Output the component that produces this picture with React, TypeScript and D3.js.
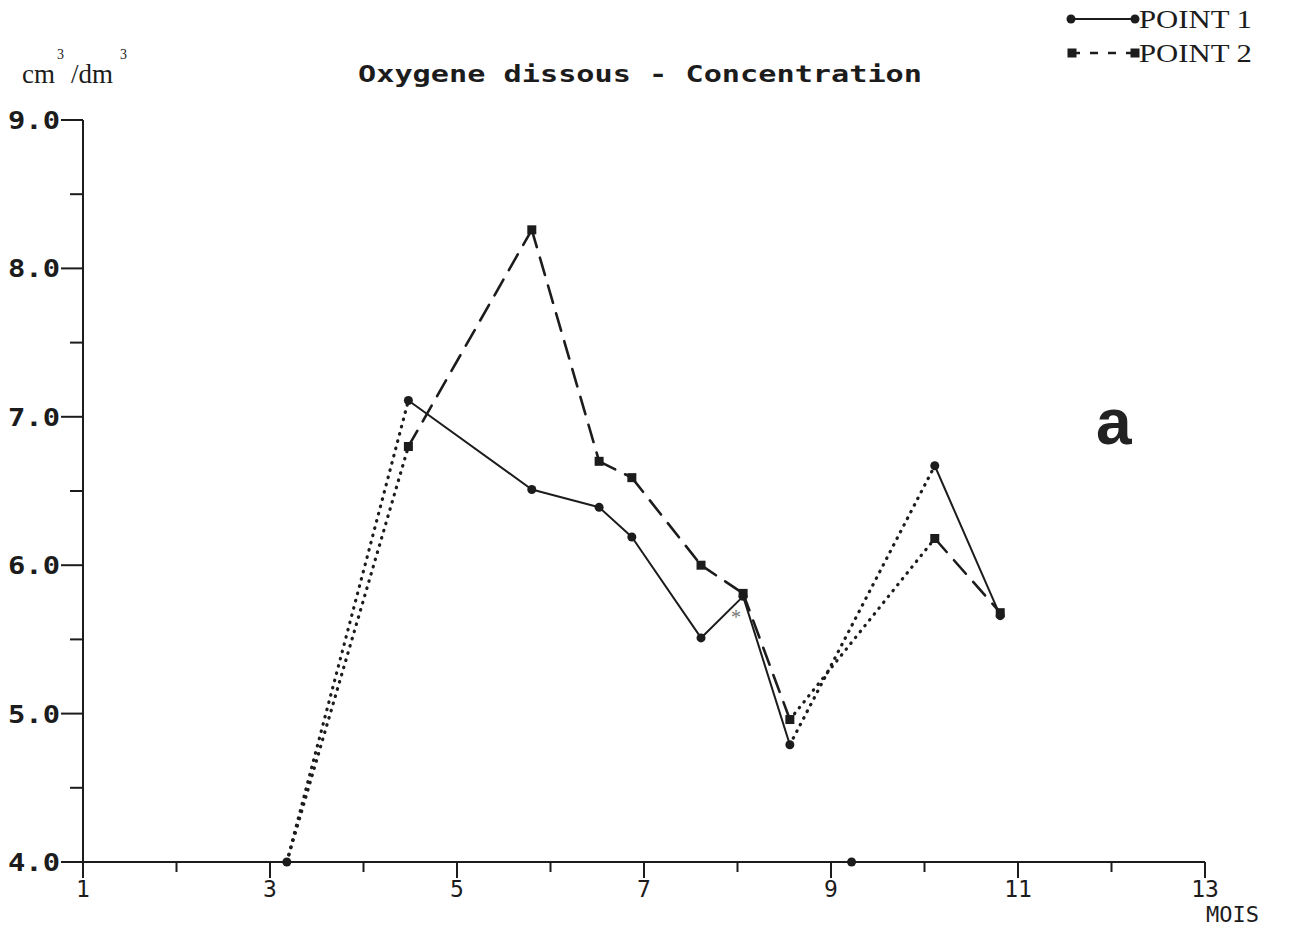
import * as d3 from "d3";

// months where samples were taken (sentinel 4.0 = no value / off scale)
const months = [3.18, 4.48, 5.8, 6.52, 6.87, 7.61, 8.06, 8.56, 10.11, 10.81];
const point1 = [4.0, 7.11, 6.51, 6.39, 6.19, 5.51, 5.79, 4.79, 6.67, 5.66];
const point2 = [4.0, 6.8, 8.26, 6.7, 6.59, 6.0, 5.81, 4.96, 6.18, 5.68];
// style of each segment between consecutive samples
const segStyle = ["dot", "main", "main", "main", "main", "main", "main", "dot", "main"];
// isolated marker on the axis (point 1 only)
const isolatedMonth = [9.22];
const isolatedValue = [4.0];

const xTicks = [1, 2, 3, 4, 5, 6, 7, 8, 9, 10, 11, 12, 13];
const yTicks = [4, 4.5, 5, 5.5, 6, 6.5, 7, 7.5, 8, 8.5, 9];

const ink = "#1c1c1c";
const plotFont = "'DejaVu Sans Mono', monospace";
const serif = "'Liberation Serif', 'DejaVu Serif', serif";

export default function App() {
  const width = 1292;
  const height = 926;
  const x = d3.scaleLinear().domain([1, 13]).range([83, 1205]);
  const y = d3.scaleLinear().domain([4, 9]).range([862, 120]);

  const seg = (vals: number[], i: number) =>
    d3.line<number>().x((d) => x(months[d])).y((d) => y(vals[d]))([i, i + 1]) || "";

  const square = (cx: number, cy: number, key: string) => (
    <rect key={key} x={cx - 4.5} y={cy - 4.5} width={9} height={9} fill={ink} />
  );

  return (
    <svg
      width={width}
      height={height}
      style={{ position: "absolute", left: 0, top: 0, background: "#fff" }}
    >
      {/* title */}
      <text x={358} y={82} fontFamily={plotFont} fontWeight="bold" fontSize={23} fill={ink} textLength={564} lengthAdjust="spacingAndGlyphs">
        Oxygene dissous - Concentration
      </text>

      {/* unit */}
      <text x={22} y={83} fontFamily={serif} fontSize={27} fill={ink}>cm</text>
      <text x={57} y={59} fontFamily={serif} fontSize={14} fill={ink}>3</text>
      <text x={71} y={83} fontFamily={serif} fontSize={27} fill={ink}>/dm</text>
      <text x={120} y={59} fontFamily={serif} fontSize={14} fill={ink}>3</text>

      {/* axes */}
      <line x1={x(1)} x2={x(1)} y1={y(9)} y2={y(4) + 6} stroke={ink} strokeWidth={2} />
      <line x1={x(1)} x2={x(13)} y1={y(4)} y2={y(4)} stroke={ink} strokeWidth={2} />
      {yTicks.map((t) => {
        const major = Number.isInteger(t);
        return (
          <g key={"y" + t}>
            <line x1={major ? 61 : 70} x2={x(1)} y1={y(t)} y2={y(t)} stroke={ink} strokeWidth={2} />
            {major && (
              <text x={8} y={y(t) + 9} fontFamily={plotFont} fontWeight="bold" fontSize={25} fill={ink} textLength={52} lengthAdjust="spacingAndGlyphs">
                {d3.format(".1f")(t)}
              </text>
            )}
          </g>
        );
      })}
      {xTicks.map((t) => {
        const major = t % 2 === 1;
        return (
          <g key={"x" + t}>
            <line x1={x(t)} x2={x(t)} y1={y(4)} y2={y(4) + (major ? 16 : 10)} stroke={ink} strokeWidth={2} />
            {major && (
              <text x={x(t)} y={y(4) + 35} textAnchor="middle" fontFamily={plotFont} fontSize={23} fill={ink}>
                {t}
              </text>
            )}
          </g>
        );
      })}
      <text x={1206} y={922} fontFamily={plotFont} fontSize={22} fill={ink}>MOIS</text>

      {/* series lines */}
      {segStyle.map((s, i) => (
        <g key={"s" + i} fill="none" stroke={ink} strokeLinecap="round">
          <path
            d={seg(point1, i)}
            strokeWidth={s === "dot" ? 3.2 : 2}
            strokeDasharray={s === "dot" ? "0.5,7" : undefined}
          />
          <path
            d={seg(point2, i)}
            strokeWidth={s === "dot" ? 3.2 : 2.6}
            strokeDasharray={s === "dot" ? "0.5,7" : "18,11"}
          />
        </g>
      ))}

      {/* markers */}
      {months.map((m, i) =>
        point2[i] > 4 ? square(x(m), y(point2[i]), "p2" + i) : null
      )}
      {months.map((m, i) => (
        <circle key={"p1" + i} cx={x(m)} cy={y(point1[i])} r={4.5} fill={ink} />
      ))}
      {isolatedMonth.map((m, i) => (
        <circle key={"iso" + i} cx={x(m)} cy={y(isolatedValue[i])} r={4.5} fill={ink} />
      ))}
      <text x={731} y={624} fontFamily={serif} fontSize={20} fill="#777">*</text>

      {/* panel letter */}
      <text x={1096} y={444} fontFamily="'Liberation Sans', Arial, sans-serif" fontWeight="bold" fontSize={64} fill="#222">
        a
      </text>

      {/* legend */}
      <line x1={1071} x2={1135} y1={19} y2={19} stroke={ink} strokeWidth={2} />
      <circle cx={1071} cy={19} r={4.5} fill={ink} />
      <circle cx={1135} cy={19} r={4.5} fill={ink} />
      <text x={1139} y={28} fontFamily={serif} fontSize={25} fill={ink} textLength={113} lengthAdjust="spacingAndGlyphs">
        POINT 1
      </text>
      <line x1={1072} x2={1135} y1={53} y2={53} stroke={ink} strokeWidth={2.4} strokeDasharray="8,10" />
      {square(1072, 53, "lg1")}
      {square(1135, 53, "lg2")}
      <text x={1139} y={62} fontFamily={serif} fontSize={25} fill={ink} textLength={113} lengthAdjust="spacingAndGlyphs">
        POINT 2
      </text>
    </svg>
  );
}
